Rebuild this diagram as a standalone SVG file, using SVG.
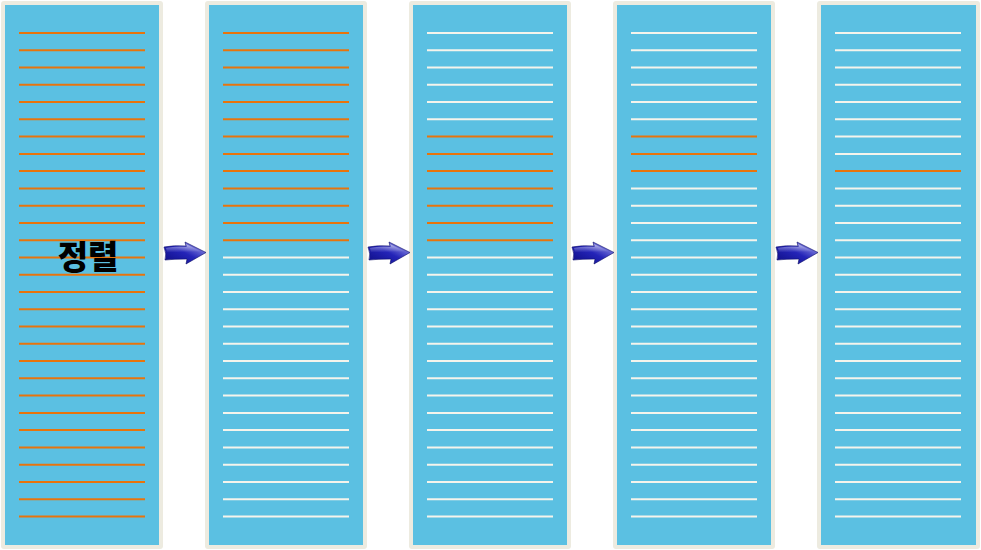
<svg xmlns="http://www.w3.org/2000/svg" xmlns:xlink="http://www.w3.org/1999/xlink" width="981" height="550" viewBox="0 0 981 550">
<style>
.frame{fill:#EDEBE0;}
.body{fill:#5BC0E2;}
.o{stroke:#E8740C;stroke-width:2;}
.w{stroke:#F5F4EC;stroke-width:2;}
.lbl{font-family:"Noto Sans CJK KR","Noto Sans",sans-serif;font-weight:900;font-size:33px;fill:#000;}
</style>
<defs>
<linearGradient id="ag" x1="0" y1="1" x2="1" y2="0">
<stop offset="0" stop-color="#0C0C80"/>
<stop offset="0.5" stop-color="#2424B8"/>
<stop offset="1" stop-color="#B0B0F0"/>
</linearGradient>
<linearGradient id="hl" x1="0" y1="0" x2="0" y2="1">
<stop offset="0" stop-color="#FFFFFF" stop-opacity="0.55"/>
<stop offset="1" stop-color="#FFFFFF" stop-opacity="0"/>
</linearGradient>
<g id="arrow">
<path d="M0,247 Q10,245 22,246 L21,242 L42,252.5 L22,264 L23,259 Q10,259 1,260 Q3,254 0,247 Z" fill="url(#ag)" stroke="#0A0A68" stroke-width="0.6"/>
<path d="M2,248 Q12,246 23,247 L22,244 L37,251.5 Q20,251.5 3,252.5 Z" fill="url(#hl)"/>
</g>
</defs>

<g id="panel1">
<rect class="frame" x="1" y="1" width="162" height="548" rx="3"/>
<rect class="body" x="5" y="5" width="154" height="540"/>
<g class="o">
<line x1="19" x2="145" y1="33" y2="33"/><line x1="19" x2="145" y1="50.3" y2="50.3"/><line x1="19" x2="145" y1="67.5" y2="67.5"/><line x1="19" x2="145" y1="84.8" y2="84.8"/><line x1="19" x2="145" y1="102.1" y2="102.1"/><line x1="19" x2="145" y1="119.3" y2="119.3"/><line x1="19" x2="145" y1="136.6" y2="136.6"/><line x1="19" x2="145" y1="153.9" y2="153.9"/><line x1="19" x2="145" y1="171.1" y2="171.1"/><line x1="19" x2="145" y1="188.4" y2="188.4"/><line x1="19" x2="145" y1="205.7" y2="205.7"/><line x1="19" x2="145" y1="222.9" y2="222.9"/><line x1="19" x2="145" y1="240.2" y2="240.2"/><line x1="19" x2="145" y1="257.5" y2="257.5"/><line x1="19" x2="145" y1="274.7" y2="274.7"/><line x1="19" x2="145" y1="292" y2="292"/><line x1="19" x2="145" y1="309.3" y2="309.3"/><line x1="19" x2="145" y1="326.5" y2="326.5"/><line x1="19" x2="145" y1="343.8" y2="343.8"/><line x1="19" x2="145" y1="361.1" y2="361.1"/><line x1="19" x2="145" y1="378.3" y2="378.3"/><line x1="19" x2="145" y1="395.6" y2="395.6"/><line x1="19" x2="145" y1="412.9" y2="412.9"/><line x1="19" x2="145" y1="430.1" y2="430.1"/><line x1="19" x2="145" y1="447.4" y2="447.4"/><line x1="19" x2="145" y1="464.7" y2="464.7"/><line x1="19" x2="145" y1="481.9" y2="481.9"/><line x1="19" x2="145" y1="499.2" y2="499.2"/><line x1="19" x2="145" y1="516.5" y2="516.5"/>
</g>
<text class="lbl" x="88" y="269" text-anchor="middle">정렬</text>
</g>

<g id="panel2" transform="translate(204,0)">
<rect class="frame" x="1" y="1" width="162" height="548" rx="3"/>
<rect class="body" x="5" y="5" width="154" height="540"/>
<g class="o">
<line x1="19" x2="145" y1="33" y2="33"/><line x1="19" x2="145" y1="50.3" y2="50.3"/><line x1="19" x2="145" y1="67.5" y2="67.5"/><line x1="19" x2="145" y1="84.8" y2="84.8"/><line x1="19" x2="145" y1="102.1" y2="102.1"/><line x1="19" x2="145" y1="119.3" y2="119.3"/><line x1="19" x2="145" y1="136.6" y2="136.6"/><line x1="19" x2="145" y1="153.9" y2="153.9"/><line x1="19" x2="145" y1="171.1" y2="171.1"/><line x1="19" x2="145" y1="188.4" y2="188.4"/><line x1="19" x2="145" y1="205.7" y2="205.7"/><line x1="19" x2="145" y1="222.9" y2="222.9"/><line x1="19" x2="145" y1="240.2" y2="240.2"/>
</g>
<g class="w">
<line x1="19" x2="145" y1="257.5" y2="257.5"/><line x1="19" x2="145" y1="274.7" y2="274.7"/><line x1="19" x2="145" y1="292" y2="292"/><line x1="19" x2="145" y1="309.3" y2="309.3"/><line x1="19" x2="145" y1="326.5" y2="326.5"/><line x1="19" x2="145" y1="343.8" y2="343.8"/><line x1="19" x2="145" y1="361.1" y2="361.1"/><line x1="19" x2="145" y1="378.3" y2="378.3"/><line x1="19" x2="145" y1="395.6" y2="395.6"/><line x1="19" x2="145" y1="412.9" y2="412.9"/><line x1="19" x2="145" y1="430.1" y2="430.1"/><line x1="19" x2="145" y1="447.4" y2="447.4"/><line x1="19" x2="145" y1="464.7" y2="464.7"/><line x1="19" x2="145" y1="481.9" y2="481.9"/><line x1="19" x2="145" y1="499.2" y2="499.2"/><line x1="19" x2="145" y1="516.5" y2="516.5"/>
</g>
</g>

<g id="panel3" transform="translate(408,0)">
<rect class="frame" x="1" y="1" width="162" height="548" rx="3"/>
<rect class="body" x="5" y="5" width="154" height="540"/>
<g class="w">
<line x1="19" x2="145" y1="33" y2="33"/><line x1="19" x2="145" y1="50.3" y2="50.3"/><line x1="19" x2="145" y1="67.5" y2="67.5"/><line x1="19" x2="145" y1="84.8" y2="84.8"/><line x1="19" x2="145" y1="102.1" y2="102.1"/><line x1="19" x2="145" y1="119.3" y2="119.3"/>
</g>
<g class="o">
<line x1="19" x2="145" y1="136.6" y2="136.6"/><line x1="19" x2="145" y1="153.9" y2="153.9"/><line x1="19" x2="145" y1="171.1" y2="171.1"/><line x1="19" x2="145" y1="188.4" y2="188.4"/><line x1="19" x2="145" y1="205.7" y2="205.7"/><line x1="19" x2="145" y1="222.9" y2="222.9"/><line x1="19" x2="145" y1="240.2" y2="240.2"/>
</g>
<g class="w">
<line x1="19" x2="145" y1="257.5" y2="257.5"/><line x1="19" x2="145" y1="274.7" y2="274.7"/><line x1="19" x2="145" y1="292" y2="292"/><line x1="19" x2="145" y1="309.3" y2="309.3"/><line x1="19" x2="145" y1="326.5" y2="326.5"/><line x1="19" x2="145" y1="343.8" y2="343.8"/><line x1="19" x2="145" y1="361.1" y2="361.1"/><line x1="19" x2="145" y1="378.3" y2="378.3"/><line x1="19" x2="145" y1="395.6" y2="395.6"/><line x1="19" x2="145" y1="412.9" y2="412.9"/><line x1="19" x2="145" y1="430.1" y2="430.1"/><line x1="19" x2="145" y1="447.4" y2="447.4"/><line x1="19" x2="145" y1="464.7" y2="464.7"/><line x1="19" x2="145" y1="481.9" y2="481.9"/><line x1="19" x2="145" y1="499.2" y2="499.2"/><line x1="19" x2="145" y1="516.5" y2="516.5"/>
</g>
</g>

<g id="panel4" transform="translate(612,0)">
<rect class="frame" x="1" y="1" width="162" height="548" rx="3"/>
<rect class="body" x="5" y="5" width="154" height="540"/>
<g class="w">
<line x1="19" x2="145" y1="33" y2="33"/><line x1="19" x2="145" y1="50.3" y2="50.3"/><line x1="19" x2="145" y1="67.5" y2="67.5"/><line x1="19" x2="145" y1="84.8" y2="84.8"/><line x1="19" x2="145" y1="102.1" y2="102.1"/><line x1="19" x2="145" y1="119.3" y2="119.3"/>
</g>
<g class="o">
<line x1="19" x2="145" y1="136.6" y2="136.6"/><line x1="19" x2="145" y1="153.9" y2="153.9"/><line x1="19" x2="145" y1="171.1" y2="171.1"/>
</g>
<g class="w">
<line x1="19" x2="145" y1="188.4" y2="188.4"/><line x1="19" x2="145" y1="205.7" y2="205.7"/><line x1="19" x2="145" y1="222.9" y2="222.9"/><line x1="19" x2="145" y1="240.2" y2="240.2"/><line x1="19" x2="145" y1="257.5" y2="257.5"/><line x1="19" x2="145" y1="274.7" y2="274.7"/><line x1="19" x2="145" y1="292" y2="292"/><line x1="19" x2="145" y1="309.3" y2="309.3"/><line x1="19" x2="145" y1="326.5" y2="326.5"/><line x1="19" x2="145" y1="343.8" y2="343.8"/><line x1="19" x2="145" y1="361.1" y2="361.1"/><line x1="19" x2="145" y1="378.3" y2="378.3"/><line x1="19" x2="145" y1="395.6" y2="395.6"/><line x1="19" x2="145" y1="412.9" y2="412.9"/><line x1="19" x2="145" y1="430.1" y2="430.1"/><line x1="19" x2="145" y1="447.4" y2="447.4"/><line x1="19" x2="145" y1="464.7" y2="464.7"/><line x1="19" x2="145" y1="481.9" y2="481.9"/><line x1="19" x2="145" y1="499.2" y2="499.2"/><line x1="19" x2="145" y1="516.5" y2="516.5"/>
</g>
</g>

<g id="panel5" transform="translate(816,0)">
<rect class="frame" x="1" y="1" width="163" height="548" rx="3"/>
<rect class="body" x="5" y="5" width="155" height="540"/>
<g class="w">
<line x1="19" x2="145" y1="33" y2="33"/><line x1="19" x2="145" y1="50.3" y2="50.3"/><line x1="19" x2="145" y1="67.5" y2="67.5"/><line x1="19" x2="145" y1="84.8" y2="84.8"/><line x1="19" x2="145" y1="102.1" y2="102.1"/><line x1="19" x2="145" y1="119.3" y2="119.3"/><line x1="19" x2="145" y1="136.6" y2="136.6"/><line x1="19" x2="145" y1="153.9" y2="153.9"/>
</g>
<g class="o">
<line x1="19" x2="145" y1="171.1" y2="171.1"/>
</g>
<g class="w">
<line x1="19" x2="145" y1="188.4" y2="188.4"/><line x1="19" x2="145" y1="205.7" y2="205.7"/><line x1="19" x2="145" y1="222.9" y2="222.9"/><line x1="19" x2="145" y1="240.2" y2="240.2"/><line x1="19" x2="145" y1="257.5" y2="257.5"/><line x1="19" x2="145" y1="274.7" y2="274.7"/><line x1="19" x2="145" y1="292" y2="292"/><line x1="19" x2="145" y1="309.3" y2="309.3"/><line x1="19" x2="145" y1="326.5" y2="326.5"/><line x1="19" x2="145" y1="343.8" y2="343.8"/><line x1="19" x2="145" y1="361.1" y2="361.1"/><line x1="19" x2="145" y1="378.3" y2="378.3"/><line x1="19" x2="145" y1="395.6" y2="395.6"/><line x1="19" x2="145" y1="412.9" y2="412.9"/><line x1="19" x2="145" y1="430.1" y2="430.1"/><line x1="19" x2="145" y1="447.4" y2="447.4"/><line x1="19" x2="145" y1="464.7" y2="464.7"/><line x1="19" x2="145" y1="481.9" y2="481.9"/><line x1="19" x2="145" y1="499.2" y2="499.2"/><line x1="19" x2="145" y1="516.5" y2="516.5"/>
</g>
</g>

<g id="connectors">
<use xlink:href="#arrow" x="164" y="0"/>
<use xlink:href="#arrow" x="368" y="0"/>
<use xlink:href="#arrow" x="572" y="0"/>
<use xlink:href="#arrow" x="776" y="0"/>
</g>
</svg>
